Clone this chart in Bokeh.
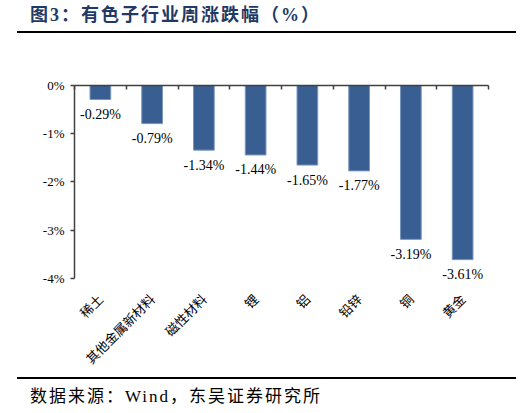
import math
from bokeh.plotting import figure
from bokeh.layouts import column
from bokeh.models import (ColumnDataSource, Div, FixedTicker, LinearAxis, Range1d,
                          PrintfTickFormatter)
from bokeh.core.properties import value
from bokeh.embed import file_html
from bokeh.resources import INLINE

# weekly change of non-ferrous sub-sectors (%)
categories = ["稀土", "其他金属新材料", "磁性材料", "锂", "铝", "铅锌", "铜", "黄金"]
changes = [-0.29, -0.79, -1.34, -1.44, -1.65, -1.77, -3.19, -3.61]
y_ticks = [-4, -3, -2, -1, 0]

title_text = "图3：有色子行业周涨跌幅（%）"
source_text = "数据来源：Wind，东吴证券研究所"

bar_color = "#385e92"
axis_color = "#404040"

# one slot per category, bar in the middle of its slot
centers = [i + 0.5 for i in range(len(categories))]
edges = list(range(len(categories) + 1))

source = ColumnDataSource(dict(
    x=centers,
    val=changes,
    lbl=[f"{v:.2f}%" for v in changes],
))

title_div = Div(
    text=f'<div style="margin-left:9px;width:499px;height:25px;border-bottom:2px solid #000;">'
         f'<div style="margin-left:13px;font-family:\'Liberation Serif\',\'Noto Sans CJK SC\';'
         f'font-weight:bold;font-size:18px;letter-spacing:2px;line-height:15px;color:#1f3a66;">'
         f'{title_text}</div></div>',
    width=506, height=28, margin=0)

p = figure(
    x_range=Range1d(0, len(categories)),
    y_range=Range1d(-4.25, 0),
    width=506, height=341, margin=0,
    min_border_left=66, min_border_right=26, min_border_top=49, min_border_bottom=87,
    toolbar_location=None, tools="", output_backend="svg",
)
p.outline_line_color = None
p.xgrid.grid_line_color = None
p.ygrid.grid_line_color = None

p.vbar(x="x", top="val", bottom=0, width=0.4, source=source,
       fill_color=bar_color, line_color="#7a96be", line_width=1)

p.text(x="x", y="val", text="lbl", source=source, y_offset=15,
       text_align="center", text_baseline="middle",
       text_font=value("Liberation Serif"), text_font_size="14px", text_color="#000000")

# category labels below the frame, rotated
p.xaxis.ticker = FixedTicker(ticks=centers)
p.xaxis.major_label_overrides = {c: name for c, name in zip(centers, categories)}
p.xaxis.axis_line_color = None
p.xaxis.major_tick_line_color = None
p.xaxis.minor_tick_line_color = None
p.xaxis.major_label_orientation = math.pi / 4
p.xaxis.major_label_standoff = 0
p.xaxis.major_label_text_font = "Noto Sans CJK SC"
p.xaxis.major_label_text_font_size = "13px"
p.xaxis.major_label_text_color = "#000000"

# y axis
p.yaxis.ticker = FixedTicker(ticks=y_ticks)
p.yaxis.formatter = PrintfTickFormatter(format="%d%%")
p.yaxis.bounds = (-4, 0)
p.yaxis.axis_line_color = axis_color
p.yaxis.axis_line_width = 1.5
p.yaxis.major_tick_line_color = axis_color
p.yaxis.major_tick_line_width = 1.5
p.yaxis.major_tick_in = 0
p.yaxis.major_tick_out = 4
p.yaxis.minor_tick_line_color = None
p.yaxis.major_label_standoff = 6
p.yaxis.major_label_text_font = "Liberation Serif"
p.yaxis.major_label_text_font_size = "13px"
p.yaxis.major_label_text_color = "#000000"

# zero line with ticks between categories (no labels)
top_axis = LinearAxis(ticker=FixedTicker(ticks=edges))
top_axis.axis_line_color = axis_color
top_axis.axis_line_width = 1.5
top_axis.major_tick_line_color = axis_color
top_axis.major_tick_line_width = 1.5
top_axis.major_tick_in = 4
top_axis.major_tick_out = 0
top_axis.minor_tick_line_color = None
top_axis.major_label_text_color = None
top_axis.major_label_text_font_size = "6px"
p.add_layout(top_axis, "above")

source_div = Div(
    text=f'<div style="margin-left:9px;width:499px;border-top:2px solid #000;">'
         f'<div style="margin-left:13px;padding-top:8px;font-family:\'Liberation Serif\',\'Noto Sans CJK SC\';'
         f'font-size:17px;letter-spacing:2px;line-height:20px;color:#000;">'
         f'{source_text}</div></div>',
    width=506, height=28, margin=0)

layout = column(title_div, p, source_div, spacing=0, margin=(8, 8, 8, 8))

open("out.html", "w").write(file_html(layout, INLINE))
